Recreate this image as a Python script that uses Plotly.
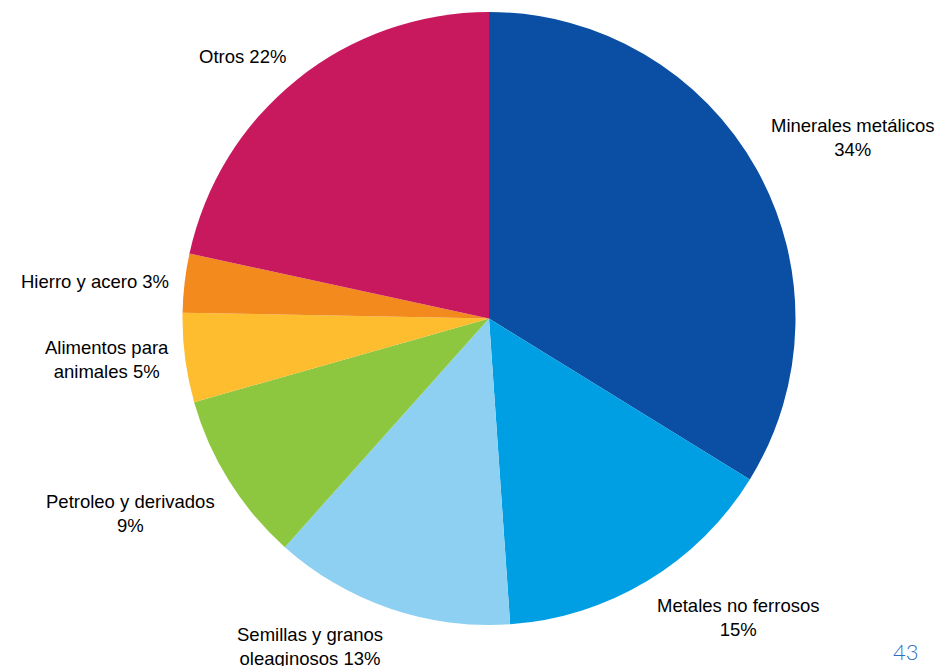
import math
import plotly.graph_objects as go

categories = ["Minerales metálicos", "Metales no ferrosos", "Semillas y granos oleaginosos",
              "Petroleo y derivados", "Alimentos para animales", "Hierro y acero", "Otros"]
values = [33.8, 15.1, 12.7, 9.0, 4.7, 3.1, 21.6]
label_texts = ["Minerales metálicos<br>34%", "Metales no ferrosos<br>15%",
               "Semillas y granos<br>oleaginosos 13%", "Petroleo y derivados<br>9%",
               "Alimentos para<br>animales 5%", "Hierro y acero 3%", "Otros 22%"]
colors = ["#0A4FA3", "#009FE3", "#8DD0F2", "#8DC63F", "#FDBD2F", "#F28A1E", "#C8185E"]

W, H = 936, 666
cx, cy, R = 489, 318.5, 306.5


def fx(px):
    return px / W


def fy(py):
    return 1 - py / H


dom_x = [fx(cx - R), fx(cx + R)]
dom_y = [fy(cy + R), fy(cy - R)]

fig = go.Figure(go.Pie(
    labels=categories, values=values, sort=False, direction="clockwise", rotation=0,
    marker=dict(colors=colors, line=dict(width=0)), textinfo="none", hoverinfo="label+percent",
    domain=dict(x=dom_x, y=dom_y), showlegend=False,
))

total = sum(values)
cum = 0.0
annotations = []
d = 14
for v, t in zip(values, label_texts):
    mid = (cum + v / 2) / total * 2 * math.pi
    cum += v
    s, c = math.sin(mid), math.cos(mid)
    px = cx + (R + d) * s
    py = cy - (R + d) * c
    xa = "left" if s > 0.3 else ("right" if s < -0.3 else "center")
    ya = "bottom" if c > 0.3 else ("top" if c < -0.3 else "middle")
    annotations.append(dict(x=fx(px), y=fy(py), xref="paper", yref="paper", text=t,
                            showarrow=False, xanchor=xa, yanchor=ya, align="center",
                            font=dict(family="Liberation Sans, Arial", size=18.5, color="#000000")))

annotations.append(dict(x=fx(906), y=fy(651), xref="paper", yref="paper", text="43",
                        showarrow=False, xanchor="center", yanchor="middle",
                        font=dict(family="Lato", size=22, color="#2E6DC2", weight=300)))

fig.update_layout(width=W, height=H, margin=dict(l=0, r=0, t=0, b=0),
                  paper_bgcolor="white", plot_bgcolor="white", annotations=annotations)
fig.write_html("out.html", config={"displayModeBar": False},
               post_script="document.body.style.margin='0px';document.body.style.overflow='hidden';")
